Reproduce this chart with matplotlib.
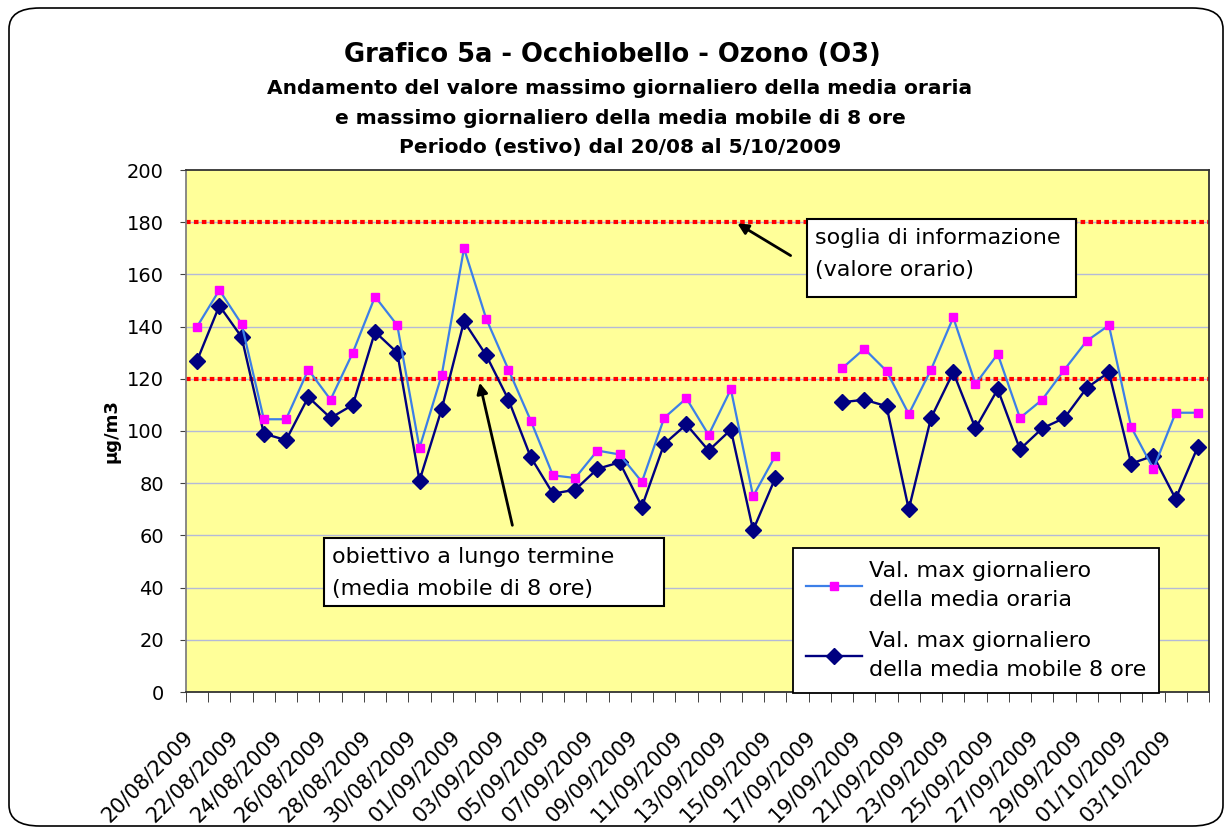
import matplotlib
matplotlib.use("Agg")
import matplotlib.pyplot as plt
import matplotlib.transforms as mtransforms
from matplotlib.patches import Rectangle, FancyBboxPatch
import numpy as np
import pandas as pd

plt.rcParams['font.family'] = ['DejaVu Sans']

# Dati
dates = pd.date_range('2009-08-20', '2009-10-04').strftime('%d/%m/%Y').tolist()
media_oraria = [140, 154, 141, 104.5, 104.5, 123.5, 112, 130, 151.5, 140.5,
                93.5, 121.5, 170, 143, 123.5, 104, 83, 82, 92.5, 91,
                80.5, 105, 112.5, 98.5, 116, 75, 90.5, None, None, 124,
                131.5, 123, 106.5, 123.5, 143.5, 118, 129.5, 105, 112, 123.5,
                134.5, 140.5, 101.5, 85.5, 107, 107]
media_mobile_8h = [127, 148, 136, 99, 96.5, 113, 105, 110, 138, 130,
                   81, 108.5, 142, 129, 112, 90, 76, 77.5, 85.5, 88,
                   71, 95, 102.5, 92.5, 100.5, 62, 82, None, None, 111,
                   112, 109.5, 70, 105, 122.5, 101, 116, 93, 101, 105,
                   116.5, 122.5, 87.5, 90.5, 74, 94]
soglia_informazione = 180
obiettivo_lungo_termine = 120

W, H = 1231, 834
fig = plt.figure(figsize=(W / 100, H / 100), dpi=100)
fig.patch.set_facecolor('white')

def fx(px):
    return px / W

def fy(py):
    return 1 - py / H

# cornice esterna arrotondata
frame = FancyBboxPatch((fx(9), fy(826)), fx(1214), 818 / H,
                       boxstyle='round,pad=0,rounding_size=0.025',
                       transform=fig.transFigure, facecolor='white',
                       edgecolor='black', linewidth=1.2, zorder=-10)
fig.add_artist(frame)

ax = fig.add_axes([fx(186), fy(692), fx(1209 - 186), (692 - 170) / H])
ax.set_facecolor('#FFFF99')

x = np.arange(len(dates))
y1 = np.array(media_oraria, dtype=float)
y2 = np.array(media_mobile_8h, dtype=float)

for yy in range(20, 200, 20):
    ax.axhline(yy, color='#B4BAD8', linewidth=1, zorder=1)

for lvl in (obiettivo_lungo_termine, soglia_informazione):
    ax.axhline(lvl, color='#FF0000', linewidth=3, dashes=(1.1, 0.8),
               dash_capstyle='butt', zorder=2)

ax.plot(x, y1, color='#3C7FE8', linewidth=1.6, marker='s', markersize=6,
        markerfacecolor='#FF00FF', markeredgecolor='#FF00FF', zorder=4,
        label='Val. max giornaliero\ndella media oraria')
ax.plot(x, y2, color='#000080', linewidth=1.7, marker='D', markersize=8,
        markerfacecolor='#000080', markeredgecolor='#000080', zorder=3,
        label='Val. max giornaliero\ndella media mobile 8 ore')

ax.set_xlim(-0.5, len(dates) - 0.5)
ax.set_ylim(0, 200)
ax.set_yticks(range(0, 201, 20))
ax.tick_params(axis='y', labelsize=14, length=4, color='#404040', pad=12)

ax.set_xticks(x[::2])
ax.set_xticklabels(dates[::2], rotation=45, ha='right', va='center',
                   rotation_mode='anchor', fontsize=15)
ax.set_xticks(np.arange(-0.5, len(dates)), minor=True)
ax.tick_params(axis='x', which='major', length=0, pad=30)
ax.tick_params(axis='x', which='minor', length=7, color='#222222', direction='out')
shift = mtransforms.ScaledTranslation(-7 / 100, 0, fig.dpi_scale_trans)
for lbl in ax.get_xticklabels():
    lbl.set_transform(lbl.get_transform() + shift)

for s in ax.spines.values():
    s.set_color('#333333')
    s.set_linewidth(1.3)
ax.spines['left'].set_color('#808080')

fig.text(fx(112), fy(431), 'µg/m3', rotation=90, fontsize=13, fontweight='bold',
         ha='center', va='center')

# titoli
fig.text(fx(612), fy(55), 'Grafico 5a - Occhiobello - Ozono (O3)', fontsize=18.5,
         fontweight='bold', ha='center', va='center')
subt = ['Andamento del valore massimo giornaliero della media oraria',
        'e massimo giornaliero della media mobile di 8 ore',
        'Periodo (estivo) dal 20/08 al 5/10/2009']
for line, py in zip(subt, (89, 118, 148)):
    fig.text(fx(620), fy(py), line, fontsize=14.5, fontweight='bold',
             ha='center', va='center')

# riquadri di testo
boxes = [((807, 219, 1076, 297), 'soglia di informazione', '(valore orario)'),
         ((324, 538, 664, 606), 'obiettivo a lungo termine', '(media mobile di 8 ore)')]
for (x0, y0, x1, y1b), l1, l2 in boxes:
    fig.add_artist(Rectangle((fx(x0), fy(y1b)), fx(x1 - x0), (y1b - y0) / H,
                             transform=fig.transFigure, facecolor='white',
                             edgecolor='black', linewidth=1.5, zorder=5))
    fig.text(fx(x0 + 8), fy(y0 + 19), l1, fontsize=16, ha='left', va='center', zorder=6)
    fig.text(fx(x0 + 8), fy(y0 + 51), l2, fontsize=16, ha='left', va='center', zorder=6)

arrow = dict(arrowstyle='-|>', color='black', lw=2, mutation_scale=16)
ax.annotate('', xy=(fx(735), fy(222)), xycoords='figure fraction',
            xytext=(fx(793), fy(257)), textcoords='figure fraction', arrowprops=arrow)
ax.annotate('', xy=(fx(479), fy(380)), xycoords='figure fraction',
            xytext=(fx(513), fy(528)), textcoords='figure fraction', arrowprops=arrow)

leg = ax.legend(loc='upper left', bbox_to_anchor=(fx(793), fy(548)),
                bbox_transform=fig.transFigure, fontsize=16, frameon=True,
                fancybox=False, edgecolor='black', framealpha=1,
                handlelength=2.5, borderpad=0.6, labelspacing=0.95,
                handletextpad=0.3, borderaxespad=0)
for t in leg.get_texts():
    t.set_linespacing(1.55)
leg.get_frame().set_linewidth(1.3)
leg.set_zorder(7)

fig.savefig('out.png', dpi=100)
